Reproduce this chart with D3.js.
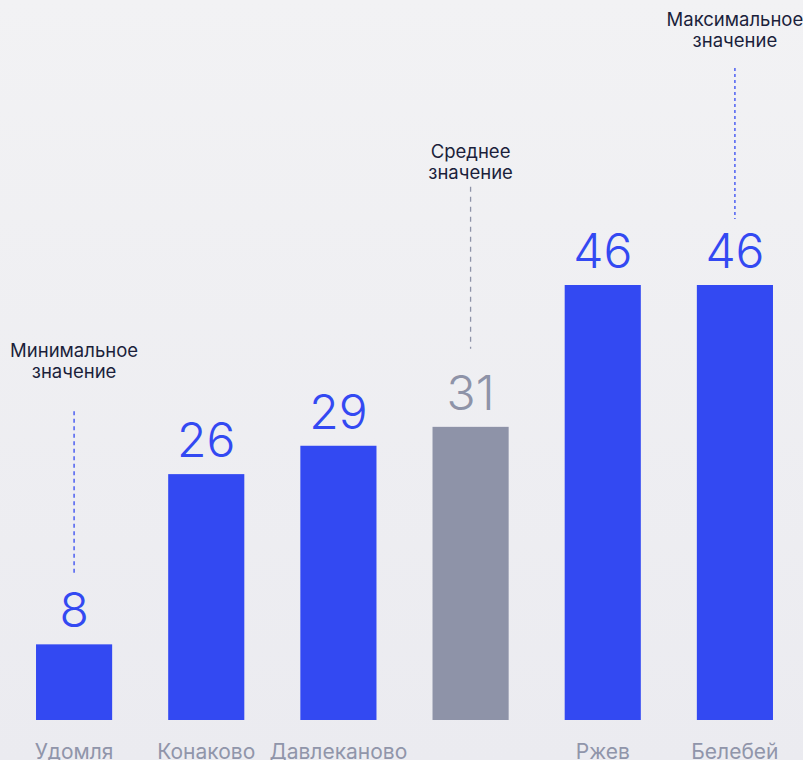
<!DOCTYPE html>
<html>
  <head>
    <meta charset="utf-8">
    <title>Bars</title>
    <script src="https://cdn.jsdelivr.net/npm/d3@7"></script>
    <style>
      html, body { margin: 0; padding: 0; }
      body { width: 803px; height: 760px; overflow: hidden; }
      svg { display: block; font-family: Inter, "Noto Sans", sans-serif; }
    </style>
  </head>
  <body>
    <svg id="chart" width="803" height="760"></svg>

    <script>
      // data
      categories = ["Удомля", "Конаково", "Давлеканово", "", "Ржев", "Белебей"];
      values = [8, 26, 29, 31, 46, 46];
      isAverage = [false, false, false, true, false, false];
      // annotations: which bar, two text lines
      noteIndex = [0, 3, 5];
      noteLine1 = ["Минимальное", "Среднее", "Максимальное"];
      noteLine2 = ["значение", "значение", "значение"];

      blue = "#3349f2";
      grey = "#8e93a8";

      chart = d3.select("#chart");
      width = 803;
      height = 760;

      // background gradient
      defs = chart.append("defs");
      grad = defs.append("linearGradient")
        .attr("id", "bg")
        .attr("x1", 0).attr("y1", 0)
        .attr("x2", 0).attr("y2", 1);
      grad.append("stop").attr("offset", "0%").attr("stop-color", "#f2f2f4");
      grad.append("stop").attr("offset", "100%").attr("stop-color", "#ebebf0");
      chart.append("rect")
        .attr("width", width)
        .attr("height", height)
        .attr("fill", "url(#bg)");

      // scales
      x = d3.scaleBand()
        .domain(d3.range(categories.length))
        .range([8, 801])
        .paddingInner(0.424)
        .paddingOuter(0.212);
      y = d3.scaleLinear()
        .domain([0, 46])
        .range([720, 285]);

      // bars
      chart.append("g")
        .selectAll("rect")
        .data(values)
        .join("rect")
          .attr("x", function(d, i) { return x(i); })
          .attr("y", function(d) { return y(d); })
          .attr("width", x.bandwidth())
          .attr("height", function(d) { return y(0) - y(d); })
          .attr("fill", function(d, i) { return isAverage[i] ? grey : blue; });

      // value labels
      chart.append("g")
        .selectAll("text")
        .data(values)
        .join("text")
          .attr("x", function(d, i) { return x(i) + x.bandwidth() / 2; })
          .attr("y", function(d) { return y(d) - 17; })
          .attr("text-anchor", "middle")
          .attr("font-size", 48)
          .attr("font-weight", 300)
          .attr("fill", function(d, i) { return isAverage[i] ? grey : blue; })
          .text(function(d) { return d; });

      // category labels (x axis, no line)
      chart.append("g")
        .selectAll("text")
        .data(categories)
        .join("text")
          .attr("x", function(d, i) { return x(i) + x.bandwidth() / 2; })
          .attr("y", 759)
          .attr("text-anchor", "middle")
          .attr("font-size", 21)
          .attr("fill", "#9095aa")
          .text(function(d) { return d; });

      // annotations: dashed leader above the value, two-line caption above it
      bottomGap = [18, 26, 14];
      lineLen = [163, 162, 151];
      textGap = [33, 8, 21];
      dashes = ["4,3.5", "5,5", "3,3"];
      notes = chart.append("g")
        .selectAll("g")
        .data(noteIndex)
        .join("g");
      notes.each(function(idx, k) {
        g = d3.select(this);
        cx = x(idx) + x.bandwidth() / 2;
        labelTop = y(values[idx]) - 17 - 35;
        lineBottom = labelTop - bottomGap[k];
        lineTop = lineBottom - lineLen[k];
        g.append("line")
          .attr("x1", cx).attr("x2", cx)
          .attr("y1", lineTop).attr("y2", lineBottom)
          .attr("stroke", isAverage[idx] ? grey : blue)
          .attr("stroke-width", 1.3)
          .attr("stroke-dasharray", dashes[k]);
        g.append("text")
          .attr("x", cx)
          .attr("y", lineTop - textGap[k] - 21)
          .attr("text-anchor", "middle")
          .attr("font-size", 18.5)
          .attr("fill", "#1b1f3b")
          .text(noteLine1[k]);
        g.append("text")
          .attr("x", cx)
          .attr("y", lineTop - textGap[k])
          .attr("text-anchor", "middle")
          .attr("font-size", 18.5)
          .attr("fill", "#1b1f3b")
          .text(noteLine2[k]);
      });
    </script>
  </body>
</html>
